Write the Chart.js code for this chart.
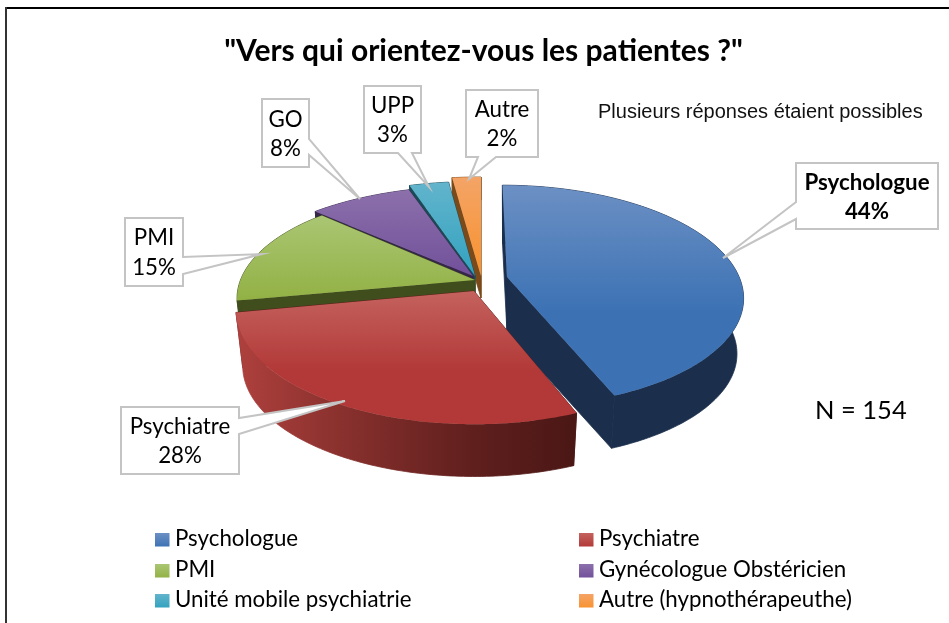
<!DOCTYPE html>
<html lang="fr">
<head>
<meta charset="utf-8">
<style>html,body{margin:0;padding:0;background:#fff}canvas{display:block}</style>
<script src="https://cdn.jsdelivr.net/npm/chart.js@4"></script>
</head>
<body>
<canvas id="c" width="949" height="623"></canvas>
<script>
const categories = ["Psychologue","Psychiatre","PMI","Gynécologue Obstéricien","Unité mobile psychiatrie","Autre (hypnothérapeuthe)"];
const calloutNames = ["Psychologue","Psychiatre","PMI","GO","UPP","Autre"];
const percentages = [44,28,15,8,3,2];
const titleText = '"Vers qui orientez-vous les patientes ?"';
const noteText = "Plusieurs réponses étaient possibles";
const sampleText = "N = 154";

const baseColors = ["#4a7ebb","#be4b48","#98b954","#7d5fa0","#46aac5","#f79646"];
const topLight  = ["#6c90c4","#c4625e","#aac673","#8c70ab","#62b4cc","#f4a467"];
const topDark   = ["#3c72b4","#b23937","#92b144","#71509a","#32a2bf","#f8922e"];
const wallColor = ["#1b2f4d","#5a1c1a","#404d1c","#35264a","#1a4a58","#7a4a1a"];
const FONT = "Lato, Carlito, sans-serif";

const R = 234.5, S = 105.3, P = 0.17;
// per-slice placement: apex x, apex y, x scale, y scale, shear, extrusion depth
const placement = [
  {x:507,y:277,h:0.99,k:1.02,sh:0.05,d:56},
  {x:474,y:291,h:1,k:1.05,sh:0,d:56},
  {x:475,y:280,h:1,k:1,sh:0,d:22},
  {x:473,y:276,h:1.03,k:1,sh:0,d:22},
  {x:475,y:276,h:1.05,k:1.05,sh:0,d:22},
  {x:481,y:276,h:1.15,k:1.1,sh:0,d:22}
];
const drawOrder = [5,4,3,2,0,1];

function project(p, a, r, depth){
  const u = r*Math.cos(a), v = r*Math.sin(a);
  const w = 1 - P*v;
  const s = 1 - depth*0.0005;
  const Y = s*p.k*S*v/w;
  return {x: p.x + s*p.h*R*u/w + p.sh*Y, y: p.y + depth + Y};
}
function rim(p, a0, a1, depth){
  const n = Math.max(4, Math.ceil((a1-a0)*60)), pts=[];
  for(let i=0;i<=n;i++) pts.push(project(p, a0+(a1-a0)*i/n, 1, depth));
  return pts;
}
function poly(ctx, pts, fill, seal){
  ctx.beginPath();
  pts.forEach((q,i)=> i?ctx.lineTo(q.x,q.y):ctx.moveTo(q.x,q.y));
  ctx.closePath(); ctx.fillStyle=fill; ctx.fill();
  if(seal){ ctx.strokeStyle=fill; ctx.lineWidth=0.8; ctx.stroke(); }
}

const pie3d = {
  id:"pie3d",
  beforeDatasetsDraw(chart){
    const ctx = chart.ctx, arcs = chart.getDatasetMeta(0).data;
    ctx.save();
    drawOrder.forEach(i=>{
      const arc = arcs[i], p = placement[i];
      const a0 = arc.startAngle, a1 = arc.endAngle;
      const top = rim(p,a0,a1,0), bot = rim(p,a0,a1,p.d);
      const apexT = {x:p.x,y:p.y}, apexB = {x:p.x,y:p.y+p.d};
      poly(ctx,[apexT,top[0],bot[0],apexB],wallColor[i],true);
      poly(ctx,[apexT,top[top.length-1],bot[bot.length-1],apexB],wallColor[i],true);
      let wf = wallColor[i];
      if(i===1){
        wf = ctx.createLinearGradient(232,0,578,0);
        wf.addColorStop(0,"#b0413e"); wf.addColorStop(0.35,"#852f2c");
        wf.addColorStop(0.7,"#5f1f1d"); wf.addColorStop(1,"#4a1715");
      }
      poly(ctx,top.concat(bot.slice().reverse()),wf,true);
      const ys = top.map(q=>q.y).concat(p.y);
      const g = ctx.createLinearGradient(0,Math.min(...ys),0,Math.max(...ys));
      g.addColorStop(0,topLight[i]); g.addColorStop(i<2?0.6:1,topDark[i]); g.addColorStop(1,topDark[i]);
      poly(ctx,[apexT].concat(top),g,false);
    });
    ctx.restore();
    return false;
  },
  afterDraw(chart){
    const ctx = chart.ctx;
    ctx.save();
    ctx.fillStyle="#000";
    ctx.fillRect(6,7,943,2);
    ctx.fillStyle="#333";
    ctx.fillRect(5,7,2,616);
    const boxes = [
      {l:796,t:163,r:938,b:229,tip:[723,258],base:[[796,202],[796,219]],lines:[183,212],bold:true},
      {l:121,t:407,r:239,b:474,tip:[345,401],base:[[239,434],[239,418]],lines:[427,456]},
      {l:125,t:218,r:183,b:286,tip:[262,254],base:[[183,274],[183,257]],lines:[238,268]},
      {l:262,t:99,r:309,b:167,tip:[360,199],base:[[309,155],[309,139]],lines:[120,149]},
      {l:364,t:86,r:421,b:153,tip:[429,187],base:[[412,153],[398,153]],lines:[106,135]},
      {l:466,t:90,r:538,b:157,tip:[469,179],base:[[496,157],[478,157]],lines:[110,139]}
    ];
    boxes.forEach((b,i)=>{
      let seq;
      if(b.base[0][0]===b.l){ seq=[[b.l,b.t],[b.r,b.t],[b.r,b.b],[b.l,b.b],b.base[1],b.tip,b.base[0]]; }
      else if(b.base[0][0]===b.r && b.base[1][0]===b.r){ seq=[[b.l,b.t],[b.r,b.t],b.base[1],b.tip,b.base[0],[b.r,b.b],[b.l,b.b]]; }
      else { seq=[[b.l,b.t],[b.r,b.t],[b.r,b.b],b.base[0],b.tip,b.base[1],[b.l,b.b]]; }
      ctx.beginPath();
      seq.forEach((q,j)=> j?ctx.lineTo(q[0],q[1]):ctx.moveTo(q[0],q[1]));
      ctx.closePath();
      ctx.fillStyle="#fff"; ctx.fill();
      ctx.lineWidth=2; ctx.strokeStyle="#c4c4c4"; ctx.stroke();
      ctx.fillStyle="#000"; ctx.textAlign="center"; ctx.textBaseline="middle";
      ctx.font=(b.bold?"bold ":"")+"22.3px "+FONT;
      const cx=(b.l+b.r)/2;
      ctx.fillText(calloutNames[i],cx,b.lines[0]);
      ctx.fillText(percentages[i]+"%",cx,b.lines[1]);
    });
    ctx.textAlign="left"; ctx.textBaseline="middle"; ctx.fillStyle="#111";
    ctx.font="20px 'Liberation Sans', Arial, sans-serif";
    ctx.fillText(noteText,598,112);
    ctx.fillStyle="#000";
    ctx.font="25.5px "+FONT;
    ctx.fillText(sampleText,815,411);
    ctx.font="22.3px "+FONT;
    const cols=[155,579], rows=[533,564,594];
    categories.forEach((name,i)=>{
      const x=cols[i%2], y=rows[Math.floor(i/2)];
      const g=ctx.createLinearGradient(0,y,0,y+14);
      g.addColorStop(0,topLight[i]); g.addColorStop(1,topDark[i]);
      ctx.fillStyle=g; ctx.fillRect(x,y,14.5,13.5);
      ctx.fillStyle="#000";
      ctx.fillText(name,x+20,y+6);
    });
    ctx.restore();
  }
};

new Chart(document.getElementById("c"),{
  type:"pie",
  data:{labels:categories,datasets:[{data:percentages,backgroundColor:baseColors,borderWidth:0}]},
  options:{
    responsive:false,
    animation:false,
    layout:{padding:{left:18,top:33,right:0,bottom:0}},
    plugins:{
      legend:{display:false},
      tooltip:{enabled:false},
      title:{display:true,text:titleText,color:"#000",font:{family:FONT,size:30,weight:"bold"},padding:{top:0,bottom:0}}
    }
  },
  plugins:[pie3d]
});
</script>
</body>
</html>
